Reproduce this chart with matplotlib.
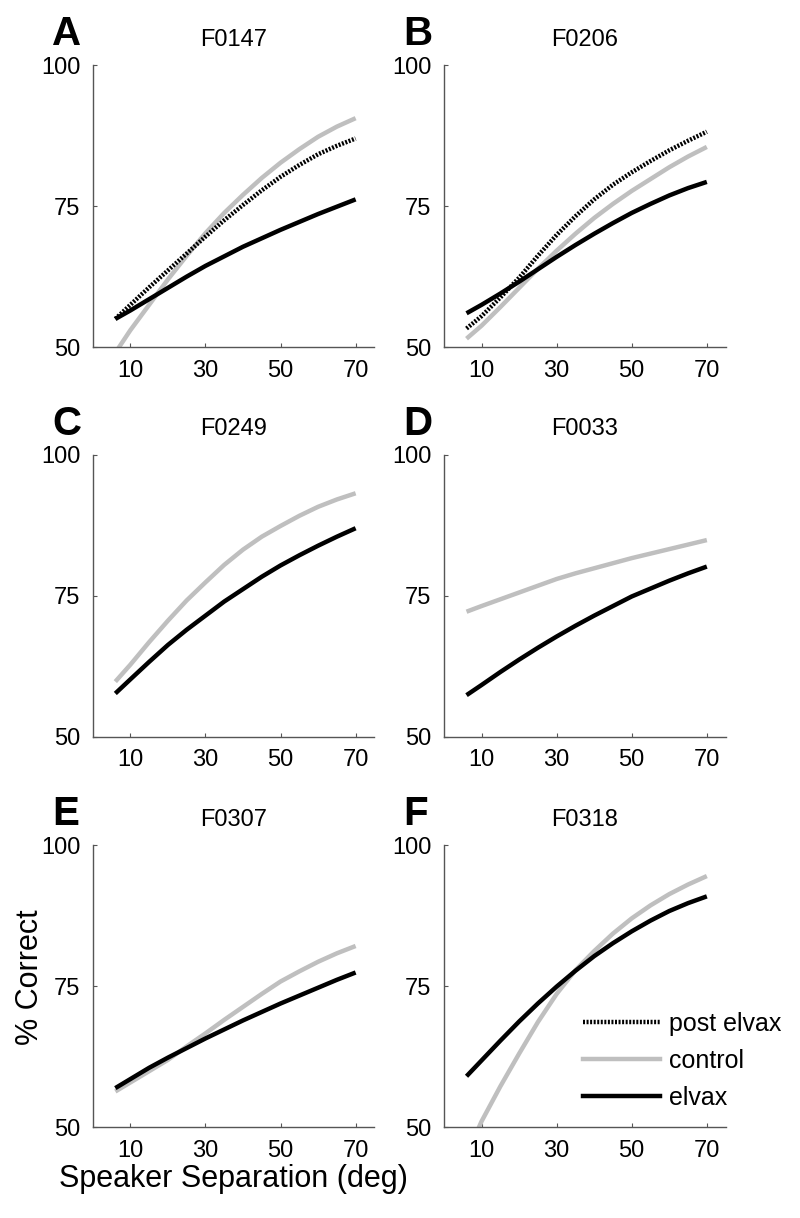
import numpy as np
import matplotlib.pyplot as plt
from matplotlib.lines import Line2D

plt.rcParams['font.family'] = ['Liberation Sans', 'DejaVu Sans']

# speaker separation (deg) at which fitted curves are read
sep = [6, 10, 15, 20, 25, 30, 35, 40, 45, 50, 55, 60, 65, 70]

panels = ['A', 'B', 'C', 'D', 'E', 'F']
ferrets = ['F0147', 'F0206', 'F0249', 'F0033', 'F0307', 'F0318']

# % correct
elvax = {
    'A': [55, 56.5, 58.5, 60.5, 62.5, 64.4, 66.1, 67.8, 69.3, 70.8, 72.2, 73.6, 74.9, 76.2],
    'B': [56, 57.5, 59.5, 61.6, 63.8, 66, 68.1, 70.1, 72, 73.8, 75.4, 76.9, 78.2, 79.3],
    'C': [57.7, 60.2, 63.3, 66.3, 69, 71.5, 74, 76.2, 78.4, 80.4, 82.2, 83.9, 85.5, 87],
    'D': [57.4, 59.2, 61.5, 63.7, 65.8, 67.8, 69.7, 71.5, 73.2, 74.9, 76.3, 77.7, 79, 80.2],
    'E': [56.9, 58.5, 60.5, 62.3, 64, 65.7, 67.3, 68.9, 70.4, 71.9, 73.3, 74.7, 76.1, 77.4],
    'F': [59, 61.8, 65.3, 68.7, 71.9, 74.9, 77.7, 80.3, 82.6, 84.7, 86.6, 88.3, 89.7, 90.9],
}
control = {
    'A': [49, 53, 57.5, 62, 66.2, 70.2, 73.8, 77, 80, 82.7, 85.1, 87.3, 89.1, 90.6],
    'B': [51.5, 53.8, 57.1, 60.5, 63.9, 67.1, 70.1, 72.9, 75.4, 77.7, 79.8, 81.9, 83.8, 85.5],
    'C': [59.8, 62.8, 66.8, 70.6, 74.2, 77.4, 80.5, 83.2, 85.5, 87.4, 89.2, 90.8, 92.1, 93.2],
    'D': [72.2, 73.2, 74.4, 75.6, 76.8, 78.0, 79.0, 79.9, 80.8, 81.7, 82.5, 83.3, 84.1, 84.9],
    'E': [56.3, 57.9, 59.9, 61.9, 64.3, 66.6, 69, 71.3, 73.6, 75.8, 77.6, 79.3, 80.8, 82.1],
    'F': [45, 51, 57.2, 63, 68.6, 73.6, 77.8, 81.2, 84.3, 87, 89.3, 91.3, 93, 94.5],
}
post_elvax = {
    'A': [55, 57.5, 60.6, 63.6, 66.6, 69.6, 72.5, 75.2, 77.8, 80.2, 82.3, 84.2, 85.7, 87],
    'B': [53.3, 55.5, 58.8, 62.3, 66.2, 69.9, 73.2, 76.2, 78.8, 81, 83, 84.9, 86.6, 88.2],
}

fig = plt.figure(figsize=(8, 12.18), dpi=100)

lefts = [0.116, 0.555]
bottoms = [0.715, 0.395, 0.0747]
w, h = 0.352, 0.2315
dots = (0, (0.45, 0.35))
grey = '#bfbfbf'

for i, p in enumerate(panels):
    ax = fig.add_axes([lefts[i % 2], bottoms[i // 2], w, h])
    x = np.array(sep)
    ax.plot(x, control[p], color=grey, lw=3.2, solid_capstyle='butt')
    ax.plot(x, elvax[p], color='black', lw=3.2, solid_capstyle='butt')
    if p in post_elvax:
        ax.plot(x, post_elvax[p], color='black', lw=3.2, ls=dots)
    ax.set_xlim(0, 75)
    ax.set_ylim(50, 100)
    ax.set_xticks([10, 30, 50, 70])
    ax.set_yticks([50, 75, 100])
    ax.tick_params(direction='in', length=3, width=0.8, labelsize=17,
                   color='#555555', pad=9)
    for s in ['top', 'right']:
        ax.spines[s].set_visible(False)
    for s in ['left', 'bottom']:
        ax.spines[s].set_color('#555555')
        ax.spines[s].set_linewidth(1.0)
    ax.set_title(ferrets[i], fontsize=17, pad=14)
    ax.text(-0.145, 1.071, p, transform=ax.transAxes, fontsize=29,
            fontweight='bold', va='baseline', ha='left')
    if p == 'E':
        ax.set_ylabel('% Correct', fontsize=22)
        ax.yaxis.set_label_coords(-0.17, 0.53)
        ax.set_xlabel('Speaker Separation (deg)', fontsize=22, labelpad=2)
    if p == 'F':
        handles = [Line2D([], [], color='black', lw=3.2, ls=dots),
                   Line2D([], [], color=grey, lw=3.2),
                   Line2D([], [], color='black', lw=3.2)]
        ax.legend(handles, ['post elvax', 'control', 'elvax'],
                  loc='lower left', bbox_to_anchor=(0.495, 0.06),
                  frameon=False, fontsize=18, handlelength=3.05,
                  labelspacing=0.52, handletextpad=0.36, borderpad=0,
                  borderaxespad=0)

fig.savefig('out.png', dpi=100)
